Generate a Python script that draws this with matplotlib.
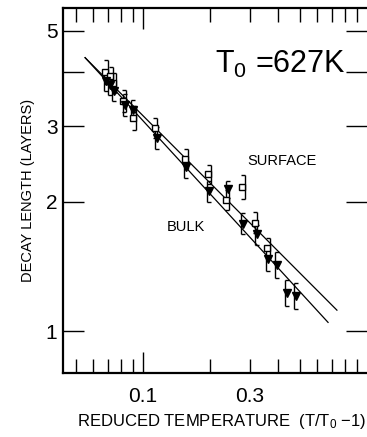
import numpy as np
import matplotlib
matplotlib.use("Agg")
import matplotlib.pyplot as plt
from matplotlib.path import Path
from matplotlib.transforms import offset_copy
from matplotlib.ticker import FixedLocator, NullFormatter

plt.rcParams['font.family'] = ['Liberation Sans', 'DejaVu Sans']
plt.rcParams['mathtext.default'] = 'regular'

# surface (open squares)
surf_x = [0.0677, 0.0712, 0.0735, 0.0814, 0.0902, 0.113, 0.154, 0.195, 0.235, 0.277, 0.316, 0.358]
surf_y = [4.02, 3.93, 3.79, 3.44, 3.14, 2.97, 2.52, 2.32, 2.02, 2.17, 1.79, 1.56]
surf_err = [0.25, 0.2, 0.2, 0.2, 0.2, 0.16, 0.14, 0.12, 0.11, 0.14, 0.1, 0.09]

# bulk (filled triangles)
bulk_x = [0.0684, 0.0712, 0.0742, 0.0831, 0.0902, 0.1155, 0.1556, 0.197, 0.240,
          0.280, 0.323, 0.361, 0.397, 0.440, 0.482]
bulk_y = [3.83, 3.74, 3.63, 3.36, 3.28, 2.82, 2.41, 2.12, 2.14,
          1.78, 1.68, 1.47, 1.43, 1.23, 1.21]
bulk_err = [0.2, 0.2, 0.2, 0.2, 0.18, 0.16, 0.14, 0.12, 0.1,
            0.1, 0.09, 0.09, 0.1, 0.085, 0.085]

# fitted lines (end points)
surf_fit_x = [0.0551, 0.734]
surf_fit_y = [4.33, 1.12]
bulk_fit_x = [0.0551, 0.670]
bulk_fit_y = [4.33, 1.049]

fig = plt.figure(figsize=(3.67, 4.37), dpi=100)
ax = fig.add_axes([0.1717, 0.1465, 0.8283, 0.8352])


def brackets(x, y, err, dx, side):
    x = np.asarray(x); y = np.asarray(y); err = np.asarray(err)
    tr = offset_copy(ax.transData, fig=fig, x=dx, y=0, units='points')
    ax.vlines(x, y - err, y + err, transform=tr, colors='k', lw=1, zorder=2)
    cap = Path([(0, 0), (side, 0)])
    ax.plot(np.r_[x, x], np.r_[y - err, y + err], ls='none', marker=cap, ms=6,
            mew=1, color='k', transform=tr, zorder=2)


ax.plot(surf_fit_x, surf_fit_y, color='k', lw=0.9, zorder=1)
ax.plot(bulk_fit_x, bulk_fit_y, color='k', lw=0.9, zorder=1)

brackets(surf_x, surf_y, surf_err, 1.8, -1)
brackets(bulk_x, bulk_y, bulk_err, -1.3, 1)

ax.plot(surf_x, surf_y, ls='none', marker='s', ms=4.2, mfc='white', mec='k', mew=1, zorder=3)
ax.plot(bulk_x, bulk_y, ls='none', marker='v', ms=5.5, color='k', zorder=3)

ax.set_xscale('log')
ax.set_yscale('log')
ax.set_xlim(0.0439, 1.0)
ax.set_ylim(0.8, 5.65)

ax.xaxis.set_major_locator(FixedLocator([0.1, 0.3]))
ax.set_xticklabels(['0.1', '0.3'])
ax.xaxis.set_minor_locator(FixedLocator([0.05, 0.06, 0.07, 0.08, 0.09, 0.2, 0.4, 0.5, 0.6, 0.7, 0.8, 0.9]))
ax.xaxis.set_minor_formatter(NullFormatter())
ax.yaxis.set_major_locator(FixedLocator([1, 2, 3, 4, 5]))
ax.set_yticklabels(['1', '2', '3', '', '5'])
ax.yaxis.set_minor_locator(FixedLocator([]))

ax.tick_params(axis='both', which='both', direction='in', top=True, right=True, width=1, color='k')
ax.tick_params(axis='x', which='major', length=10, pad=10, labelsize=15)
ax.tick_params(axis='x', which='minor', length=10)
ax.tick_params(axis='y', which='major', length=15, pad=4, labelsize=15)
for t in ax.xaxis.get_major_ticks():
    if t.get_loc() == 0.1:
        t.tick1line.set_markersize(15)
        t.tick2line.set_markersize(15)

for s in ['left', 'bottom', 'top']:
    ax.spines[s].set_linewidth(1.6)
ax.spines['right'].set_visible(False)

ax.set_xlabel('REDUCED TEMPERATURE  (T/T$_0$ $-$1)', fontsize=12, va='center')
ax.xaxis.set_label_coords(0.521, -0.134)
ax.set_ylabel('DECAY LENGTH (LAYERS)', fontsize=10.5, va='center')
ax.yaxis.set_label_coords(-0.115, 0.5)

ax.text(0.714, 0.822, 'T$_0$ =627K', transform=ax.transAxes, ha='center', va='baseline',
        fontsize=22)
ax.text(0.72, 0.581, 'SURFACE', transform=ax.transAxes, ha='center', va='center', fontsize=10.5)
ax.text(0.405, 0.40, 'BULK', transform=ax.transAxes, ha='center', va='center', fontsize=10.5)

fig.savefig('out.png', dpi=100)
